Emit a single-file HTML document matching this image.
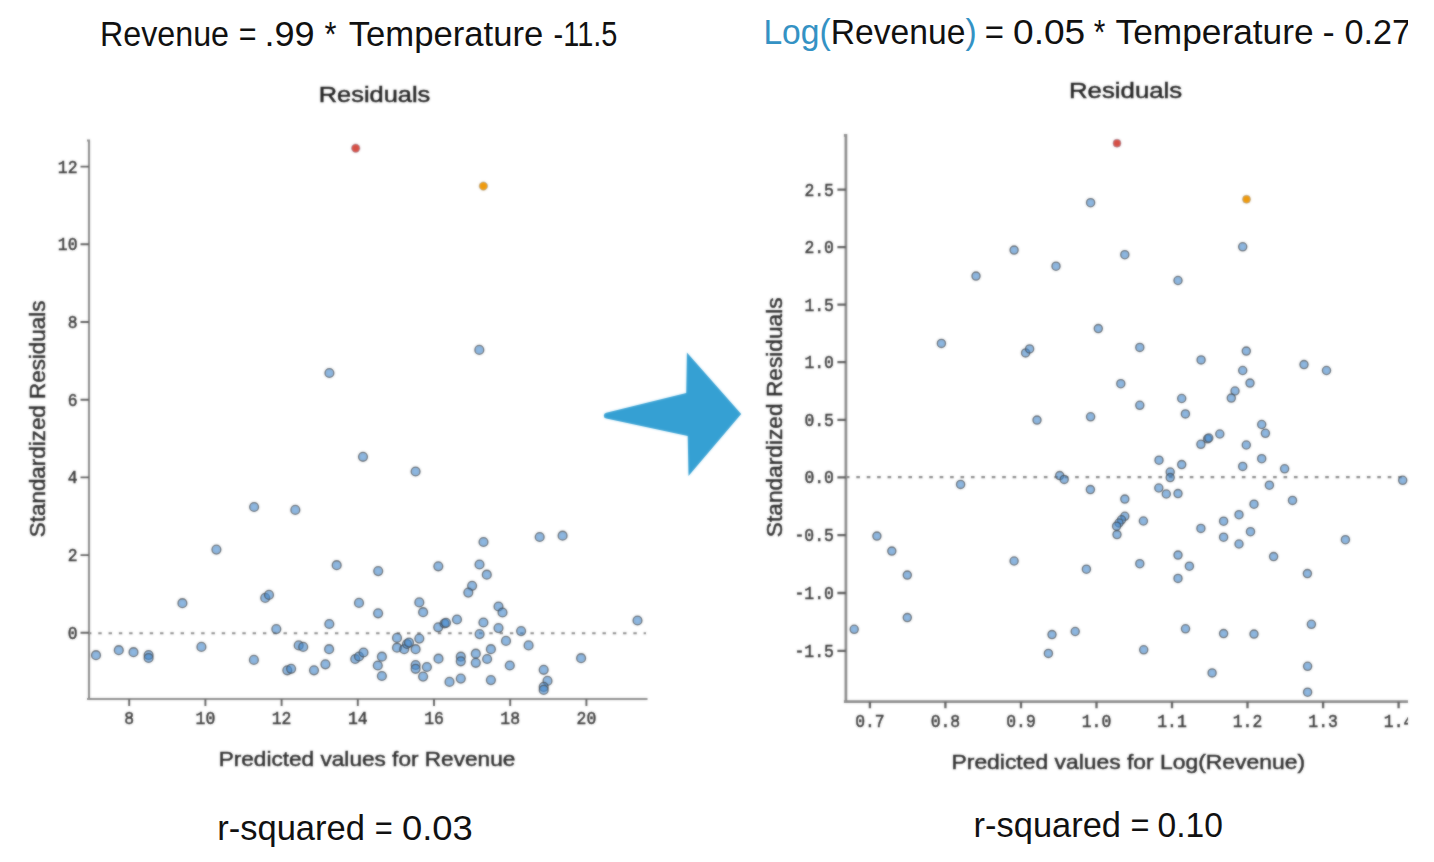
<!DOCTYPE html>
<html><head><meta charset="utf-8"><title>Residuals</title>
<style>
html,body{margin:0;padding:0;background:#fff;}
body{width:1434px;height:862px;overflow:hidden;font-family:"Liberation Sans",sans-serif;}
svg{display:block;font-family:"Liberation Sans",sans-serif;}
</style></head><body>
<svg width="1434" height="862" viewBox="0 0 1434 862"><defs><clipPath id="rc"><rect x="0" y="0" width="1408" height="862"/></clipPath><filter id="bl" x="0" y="0" width="1434" height="862" filterUnits="userSpaceOnUse" color-interpolation-filters="sRGB"><feGaussianBlur in="SourceGraphic" stdDeviation="0.8" result="b"/><feComposite in="SourceGraphic" in2="b" operator="arithmetic" k1="0" k2="0.4" k3="0.6" k4="0"/></filter></defs><g filter="url(#bl)"><rect width="1434" height="862" fill="#fff"/><text x="318.7" y="101.7" font-size="22.5" fill="#222" stroke="#222" stroke-width="0.45" textLength="111.6" lengthAdjust="spacingAndGlyphs">Residuals</text><text x="1069.0" y="97.8" font-size="22.5" fill="#222" stroke="#222" stroke-width="0.45" textLength="113.2" lengthAdjust="spacingAndGlyphs">Residuals</text><text x="218.7" y="765.8" font-size="21" fill="#2c2c2c" stroke="#2c2c2c" stroke-width="0.45" textLength="296.6" lengthAdjust="spacingAndGlyphs">Predicted values for Revenue</text><text x="951.5" y="769" font-size="21" fill="#2c2c2c" stroke="#2c2c2c" stroke-width="0.45" textLength="353.5" lengthAdjust="spacingAndGlyphs">Predicted values for Log(Revenue)</text><text transform="translate(44.6,537.2) rotate(-90)" x="0" y="0" font-size="22.5" fill="#2c2c2c" stroke="#2c2c2c" stroke-width="0.45" textLength="236.6" lengthAdjust="spacingAndGlyphs">Standardized Residuals</text><text transform="translate(781.5,537.2) rotate(-90)" x="0" y="0" font-size="22.5" fill="#2c2c2c" stroke="#2c2c2c" stroke-width="0.45" textLength="239.8" lengthAdjust="spacingAndGlyphs">Standardized Residuals</text><g stroke="#8c8c8c" fill="none"><path stroke-width="2.1" d="M87,140.5 H89 V699 M87,699 H647.5"/><path stroke-width="2.7" d="M843.9,135.3 H845.9 V701.7 M843.9,701.7 H1408"/></g><path d="M80.5,632.8H89M80.5,555.1H89M80.5,477.4H89M80.5,399.7H89M80.5,322.0H89M80.5,244.3H89M80.5,166.6H89M129.2,699V706M205.4,699V706M281.6,699V706M357.8,699V706M434.0,699V706M510.2,699V706M586.4,699V706" stroke="#606060" stroke-width="1.9" fill="none"/><path d="M837.4,650.9H845.9M837.4,593.0H845.9M837.4,535.1H845.9M837.4,477.3H845.9M837.4,419.8H845.9M837.4,362.2H845.9M837.4,304.7H845.9M837.4,247.1H845.9M837.4,189.6H845.9M869.9,701.7V708.3000000000001M945.4,701.7V708.3000000000001M1021.0,701.7V708.3000000000001M1096.5,701.7V708.3000000000001M1172.0,701.7V708.3000000000001M1247.5,701.7V708.3000000000001M1323.1,701.7V708.3000000000001M1398.6,701.7V708.3000000000001" stroke="#606060" stroke-width="2.3" fill="none" clip-path="url(#rc)"/><line x1="89" y1="633.2" x2="646" y2="633.2" stroke="#888" stroke-width="2" stroke-dasharray="3.4 6.89" stroke-dashoffset="1.0"/><line x1="845.9" y1="477.2" x2="1408" y2="477.2" stroke="#888" stroke-width="2.2" stroke-dasharray="3.6 6.82" stroke-dashoffset="0"/><g font-family="Liberation Mono, monospace" font-size="17.8" fill="#3a3a3a" stroke="#3a3a3a" stroke-width="0.5"><text x="77.5" y="638.7" text-anchor="end" textLength="9.8" lengthAdjust="spacingAndGlyphs">0</text><text x="77.5" y="561.0" text-anchor="end" textLength="9.8" lengthAdjust="spacingAndGlyphs">2</text><text x="77.5" y="483.3" text-anchor="end" textLength="9.8" lengthAdjust="spacingAndGlyphs">4</text><text x="77.5" y="405.6" text-anchor="end" textLength="9.8" lengthAdjust="spacingAndGlyphs">6</text><text x="77.5" y="327.9" text-anchor="end" textLength="9.8" lengthAdjust="spacingAndGlyphs">8</text><text x="77.5" y="250.2" text-anchor="end" textLength="19.7" lengthAdjust="spacingAndGlyphs">10</text><text x="77.5" y="172.5" text-anchor="end" textLength="19.7" lengthAdjust="spacingAndGlyphs">12</text><text x="129.2" y="724.4" text-anchor="middle" textLength="9.8" lengthAdjust="spacingAndGlyphs">8</text><text x="205.4" y="724.4" text-anchor="middle" textLength="19.7" lengthAdjust="spacingAndGlyphs">10</text><text x="281.6" y="724.4" text-anchor="middle" textLength="19.7" lengthAdjust="spacingAndGlyphs">12</text><text x="357.8" y="724.4" text-anchor="middle" textLength="19.7" lengthAdjust="spacingAndGlyphs">14</text><text x="434.0" y="724.4" text-anchor="middle" textLength="19.7" lengthAdjust="spacingAndGlyphs">16</text><text x="510.2" y="724.4" text-anchor="middle" textLength="19.7" lengthAdjust="spacingAndGlyphs">18</text><text x="586.4" y="724.4" text-anchor="middle" textLength="19.7" lengthAdjust="spacingAndGlyphs">20</text><text x="833.9" y="656.8" text-anchor="end" textLength="39.4" lengthAdjust="spacingAndGlyphs">-1.5</text><text x="833.9" y="598.9" text-anchor="end" textLength="39.4" lengthAdjust="spacingAndGlyphs">-1.0</text><text x="833.9" y="541.0" text-anchor="end" textLength="39.4" lengthAdjust="spacingAndGlyphs">-0.5</text><text x="833.9" y="483.2" text-anchor="end" textLength="29.5" lengthAdjust="spacingAndGlyphs">0.0</text><text x="833.9" y="425.6" text-anchor="end" textLength="29.5" lengthAdjust="spacingAndGlyphs">0.5</text><text x="833.9" y="368.1" text-anchor="end" textLength="29.5" lengthAdjust="spacingAndGlyphs">1.0</text><text x="833.9" y="310.6" text-anchor="end" textLength="29.5" lengthAdjust="spacingAndGlyphs">1.5</text><text x="833.9" y="253.0" text-anchor="end" textLength="29.5" lengthAdjust="spacingAndGlyphs">2.0</text><text x="833.9" y="195.5" text-anchor="end" textLength="29.5" lengthAdjust="spacingAndGlyphs">2.5</text></g><g font-family="Liberation Mono, monospace" font-size="17.8" fill="#3a3a3a" stroke="#3a3a3a" stroke-width="0.5" clip-path="url(#rc)"><text x="869.9" y="726.6" text-anchor="middle" textLength="29.5" lengthAdjust="spacingAndGlyphs">0.7</text><text x="945.4" y="726.6" text-anchor="middle" textLength="29.5" lengthAdjust="spacingAndGlyphs">0.8</text><text x="1021.0" y="726.6" text-anchor="middle" textLength="29.5" lengthAdjust="spacingAndGlyphs">0.9</text><text x="1096.5" y="726.6" text-anchor="middle" textLength="29.5" lengthAdjust="spacingAndGlyphs">1.0</text><text x="1172.0" y="726.6" text-anchor="middle" textLength="29.5" lengthAdjust="spacingAndGlyphs">1.1</text><text x="1247.5" y="726.6" text-anchor="middle" textLength="29.5" lengthAdjust="spacingAndGlyphs">1.2</text><text x="1323.1" y="726.6" text-anchor="middle" textLength="29.5" lengthAdjust="spacingAndGlyphs">1.3</text><text x="1398.6" y="726.6" text-anchor="middle" textLength="29.5" lengthAdjust="spacingAndGlyphs">1.4</text></g><g fill="#4187cd" fill-opacity="0.6" stroke="#404040" stroke-width="1.3" stroke-opacity="0.7"><circle cx="329.4" cy="373.0" r="4.45"/><circle cx="479.3" cy="349.9" r="4.45"/><circle cx="363.0" cy="456.8" r="4.45"/><circle cx="415.6" cy="471.5" r="4.45"/><circle cx="254.1" cy="507.0" r="4.45"/><circle cx="295.3" cy="509.9" r="4.45"/><circle cx="216.4" cy="549.6" r="4.45"/><circle cx="483.5" cy="542.0" r="4.45"/><circle cx="539.7" cy="537.0" r="4.45"/><circle cx="562.6" cy="535.7" r="4.45"/><circle cx="336.7" cy="565.2" r="4.45"/><circle cx="378.2" cy="571.1" r="4.45"/><circle cx="438.3" cy="566.3" r="4.45"/><circle cx="479.5" cy="564.5" r="4.45"/><circle cx="486.8" cy="574.7" r="4.45"/><circle cx="472.1" cy="585.8" r="4.45"/><circle cx="468.3" cy="592.6" r="4.45"/><circle cx="265.2" cy="597.9" r="4.45"/><circle cx="269.0" cy="594.9" r="4.45"/><circle cx="182.4" cy="603.2" r="4.45"/><circle cx="359.0" cy="602.9" r="4.45"/><circle cx="419.3" cy="602.4" r="4.45"/><circle cx="378.1" cy="613.3" r="4.45"/><circle cx="423.1" cy="612.2" r="4.45"/><circle cx="498.5" cy="606.5" r="4.45"/><circle cx="502.5" cy="612.5" r="4.45"/><circle cx="329.3" cy="624.0" r="4.45"/><circle cx="276.3" cy="629.1" r="4.45"/><circle cx="438.2" cy="627.3" r="4.45"/><circle cx="444.5" cy="623.5" r="4.45"/><circle cx="446.0" cy="622.8" r="4.45"/><circle cx="457.0" cy="619.5" r="4.45"/><circle cx="483.4" cy="622.5" r="4.45"/><circle cx="498.5" cy="628.1" r="4.45"/><circle cx="521.1" cy="631.1" r="4.45"/><circle cx="479.6" cy="634.1" r="4.45"/><circle cx="637.5" cy="620.5" r="4.45"/><circle cx="96.0" cy="655.2" r="4.45"/><circle cx="118.8" cy="650.2" r="4.45"/><circle cx="133.5" cy="652.2" r="4.45"/><circle cx="148.6" cy="655.0" r="4.45"/><circle cx="148.6" cy="658.0" r="4.45"/><circle cx="201.4" cy="646.9" r="4.45"/><circle cx="253.9" cy="659.9" r="4.45"/><circle cx="298.7" cy="645.4" r="4.45"/><circle cx="303.2" cy="646.9" r="4.45"/><circle cx="329.1" cy="649.2" r="4.45"/><circle cx="287.3" cy="670.3" r="4.45"/><circle cx="291.1" cy="668.8" r="4.45"/><circle cx="314.0" cy="670.3" r="4.45"/><circle cx="325.4" cy="664.3" r="4.45"/><circle cx="355.2" cy="659.0" r="4.45"/><circle cx="359.0" cy="656.5" r="4.45"/><circle cx="363.5" cy="652.5" r="4.45"/><circle cx="381.9" cy="656.7" r="4.45"/><circle cx="377.8" cy="665.5" r="4.45"/><circle cx="381.9" cy="676.0" r="4.45"/><circle cx="397.0" cy="637.9" r="4.45"/><circle cx="397.0" cy="647.7" r="4.45"/><circle cx="404.2" cy="649.2" r="4.45"/><circle cx="407.0" cy="644.0" r="4.45"/><circle cx="409.0" cy="642.5" r="4.45"/><circle cx="415.6" cy="649.2" r="4.45"/><circle cx="419.3" cy="638.6" r="4.45"/><circle cx="415.6" cy="665.0" r="4.45"/><circle cx="415.6" cy="668.8" r="4.45"/><circle cx="426.9" cy="667.0" r="4.45"/><circle cx="423.1" cy="676.6" r="4.45"/><circle cx="438.5" cy="658.7" r="4.45"/><circle cx="460.8" cy="656.7" r="4.45"/><circle cx="460.8" cy="661.3" r="4.45"/><circle cx="449.5" cy="681.9" r="4.45"/><circle cx="460.8" cy="678.6" r="4.45"/><circle cx="506.0" cy="640.9" r="4.45"/><circle cx="528.6" cy="645.4" r="4.45"/><circle cx="490.9" cy="649.2" r="4.45"/><circle cx="475.8" cy="653.7" r="4.45"/><circle cx="487.1" cy="659.0" r="4.45"/><circle cx="475.8" cy="662.8" r="4.45"/><circle cx="509.8" cy="665.5" r="4.45"/><circle cx="581.1" cy="658.2" r="4.45"/><circle cx="543.7" cy="669.8" r="4.45"/><circle cx="547.5" cy="680.9" r="4.45"/><circle cx="543.7" cy="686.9" r="4.45"/><circle cx="543.7" cy="689.9" r="4.45"/><circle cx="490.9" cy="680.1" r="4.45"/></g><circle cx="355.7" cy="148.2" r="4.2" fill="#d64f45" stroke="#8a9bb5" stroke-opacity="0.6" stroke-width="0.9"/><circle cx="483.4" cy="186.1" r="4.2" fill="#ef9a0c" stroke="#8a9bb5" stroke-opacity="0.6" stroke-width="0.9"/><g clip-path="url(#rc)"><g fill="#4187cd" fill-opacity="0.6" stroke="#404040" stroke-width="1.3" stroke-opacity="0.7"><circle cx="1090.6" cy="202.7" r="4.1"/><circle cx="1014.1" cy="250.1" r="4.1"/><circle cx="1056.0" cy="266.2" r="4.1"/><circle cx="976.0" cy="276.1" r="4.1"/><circle cx="1124.8" cy="254.7" r="4.1"/><circle cx="1242.7" cy="246.8" r="4.1"/><circle cx="1178.0" cy="280.5" r="4.1"/><circle cx="941.4" cy="343.4" r="4.1"/><circle cx="1025.6" cy="352.9" r="4.1"/><circle cx="1029.6" cy="348.9" r="4.1"/><circle cx="1098.3" cy="328.6" r="4.1"/><circle cx="1120.8" cy="383.7" r="4.1"/><circle cx="1037.0" cy="420.1" r="4.1"/><circle cx="1090.6" cy="416.8" r="4.1"/><circle cx="960.6" cy="484.4" r="4.1"/><circle cx="1059.7" cy="475.6" r="4.1"/><circle cx="1064.2" cy="479.4" r="4.1"/><circle cx="1139.8" cy="347.4" r="4.1"/><circle cx="1139.8" cy="405.3" r="4.1"/><circle cx="1201.1" cy="359.9" r="4.1"/><circle cx="1246.3" cy="351.1" r="4.1"/><circle cx="1242.7" cy="370.5" r="4.1"/><circle cx="1250.0" cy="383.1" r="4.1"/><circle cx="1235.0" cy="391.0" r="4.1"/><circle cx="1231.3" cy="398.1" r="4.1"/><circle cx="1304.0" cy="364.6" r="4.1"/><circle cx="1326.5" cy="370.5" r="4.1"/><circle cx="1181.7" cy="398.5" r="4.1"/><circle cx="1185.4" cy="413.9" r="4.1"/><circle cx="1261.7" cy="424.5" r="4.1"/><circle cx="1265.4" cy="433.3" r="4.1"/><circle cx="1219.8" cy="434.0" r="4.1"/><circle cx="1207.6" cy="438.8" r="4.1"/><circle cx="1208.8" cy="438.0" r="4.1"/><circle cx="1200.9" cy="444.3" r="4.1"/><circle cx="1246.3" cy="445.0" r="4.1"/><circle cx="1261.7" cy="458.7" r="4.1"/><circle cx="1242.7" cy="466.4" r="4.1"/><circle cx="1284.6" cy="468.8" r="4.1"/><circle cx="1159.0" cy="460.2" r="4.1"/><circle cx="1181.7" cy="464.6" r="4.1"/><circle cx="1170.2" cy="472.0" r="4.1"/><circle cx="1170.2" cy="477.6" r="4.1"/><circle cx="1158.8" cy="488.0" r="4.1"/><circle cx="1269.4" cy="485.2" r="4.1"/><circle cx="1402.7" cy="480.3" r="4.1"/><circle cx="1090.4" cy="489.6" r="4.1"/><circle cx="1124.8" cy="499.1" r="4.1"/><circle cx="1124.8" cy="516.3" r="4.1"/><circle cx="1121.5" cy="519.8" r="4.1"/><circle cx="1119.0" cy="523.0" r="4.1"/><circle cx="1116.6" cy="526.2" r="4.1"/><circle cx="1117.0" cy="534.6" r="4.1"/><circle cx="876.9" cy="536.1" r="4.1"/><circle cx="891.8" cy="551.1" r="4.1"/><circle cx="907.3" cy="575.1" r="4.1"/><circle cx="1014.1" cy="561.0" r="4.1"/><circle cx="1086.4" cy="569.2" r="4.1"/><circle cx="907.3" cy="617.6" r="4.1"/><circle cx="854.2" cy="629.3" r="4.1"/><circle cx="1052.0" cy="634.6" r="4.1"/><circle cx="1075.2" cy="631.5" r="4.1"/><circle cx="1048.4" cy="653.4" r="4.1"/><circle cx="1166.3" cy="494.0" r="4.1"/><circle cx="1178.0" cy="493.6" r="4.1"/><circle cx="1254.0" cy="504.2" r="4.1"/><circle cx="1292.5" cy="500.4" r="4.1"/><circle cx="1239.0" cy="514.7" r="4.1"/><circle cx="1223.6" cy="521.2" r="4.1"/><circle cx="1143.4" cy="521.0" r="4.1"/><circle cx="1200.9" cy="528.4" r="4.1"/><circle cx="1250.5" cy="531.7" r="4.1"/><circle cx="1223.6" cy="537.2" r="4.1"/><circle cx="1239.0" cy="544.0" r="4.1"/><circle cx="1345.4" cy="539.7" r="4.1"/><circle cx="1178.0" cy="555.1" r="4.1"/><circle cx="1139.8" cy="563.7" r="4.1"/><circle cx="1189.4" cy="566.2" r="4.1"/><circle cx="1178.0" cy="578.4" r="4.1"/><circle cx="1273.6" cy="556.6" r="4.1"/><circle cx="1307.4" cy="573.6" r="4.1"/><circle cx="1185.5" cy="628.8" r="4.1"/><circle cx="1223.6" cy="633.6" r="4.1"/><circle cx="1254.0" cy="634.1" r="4.1"/><circle cx="1311.4" cy="624.3" r="4.1"/><circle cx="1143.7" cy="649.8" r="4.1"/><circle cx="1212.1" cy="672.9" r="4.1"/><circle cx="1307.6" cy="666.3" r="4.1"/><circle cx="1307.6" cy="692.2" r="4.1"/></g></g><circle cx="1117" cy="143.2" r="4.0" fill="#d64f45" stroke="#8a9bb5" stroke-opacity="0.6" stroke-width="0.9"/><circle cx="1246.5" cy="199.3" r="4.0" fill="#ef9a0c" stroke="#8a9bb5" stroke-opacity="0.6" stroke-width="0.9"/><path d="M603.8,415.7 Q603.8,413.3 606.2,412.8 L686.2,392.9 L686.9,352.6 L741.2,414 L688.5,475.9 L687.7,435.9 L606.2,418.6 Q603.8,418.1 603.8,415.7 Z" fill="#35a0d3"/></g><text x="100.0" y="45.5" font-size="35.5" fill="#111" textLength="129.0" lengthAdjust="spacingAndGlyphs">Revenue</text><text x="238.8" y="45.5" font-size="35.5" fill="#111" textLength="17.8" lengthAdjust="spacingAndGlyphs">=</text><text x="264.4" y="45.5" font-size="35.5" fill="#111" textLength="50.2" lengthAdjust="spacingAndGlyphs">.99</text><text x="324.4" y="45.5" font-size="35.5" fill="#111" textLength="12.0" lengthAdjust="spacingAndGlyphs">*</text><text x="348.8" y="45.5" font-size="35.5" fill="#111" textLength="194.4" lengthAdjust="spacingAndGlyphs">Temperature</text><text x="553.6" y="45.5" font-size="35.5" fill="#111" textLength="63.8" lengthAdjust="spacingAndGlyphs">-11.5</text><text x="763.4" y="43.8" font-size="35.5" fill="#111" textLength="213.2" lengthAdjust="spacingAndGlyphs" clip-path="url(#rc)"><tspan fill="#3492c4">Log(</tspan>Revenue<tspan fill="#3492c4">)</tspan></text><text x="984.8" y="43.8" font-size="35.5" fill="#111" textLength="19.2" lengthAdjust="spacingAndGlyphs" clip-path="url(#rc)">=</text><text x="1013.0" y="43.8" font-size="35.5" fill="#111" textLength="72.2" lengthAdjust="spacingAndGlyphs" clip-path="url(#rc)">0.05</text><text x="1093.8" y="43.8" font-size="35.5" fill="#111" textLength="11.6" lengthAdjust="spacingAndGlyphs" clip-path="url(#rc)">*</text><text x="1115.6" y="43.8" font-size="35.5" fill="#111" textLength="198.0" lengthAdjust="spacingAndGlyphs" clip-path="url(#rc)">Temperature</text><text x="1322.4" y="43.8" font-size="35.5" fill="#111" textLength="12.2" lengthAdjust="spacingAndGlyphs" clip-path="url(#rc)">-</text><text x="1344.4" y="43.8" font-size="35.5" fill="#111" textLength="66.6" lengthAdjust="spacingAndGlyphs" clip-path="url(#rc)">0.27</text><text x="217.2" y="839.6" font-size="34.5" fill="#111" textLength="147.8" lengthAdjust="spacingAndGlyphs">r-squared</text><text x="374.8" y="839.6" font-size="34.5" fill="#111" textLength="18.0" lengthAdjust="spacingAndGlyphs">=</text><text x="402.0" y="839.6" font-size="34.5" fill="#111" textLength="70.8" lengthAdjust="spacingAndGlyphs">0.03</text><text x="973.6" y="837.4" font-size="34.5" fill="#111" textLength="147.4" lengthAdjust="spacingAndGlyphs">r-squared</text><text x="1130.4" y="837.4" font-size="34.5" fill="#111" textLength="19.0" lengthAdjust="spacingAndGlyphs">=</text><text x="1157.6" y="837.4" font-size="34.5" fill="#111" textLength="65.4" lengthAdjust="spacingAndGlyphs">0.10</text></svg>
</body></html>
